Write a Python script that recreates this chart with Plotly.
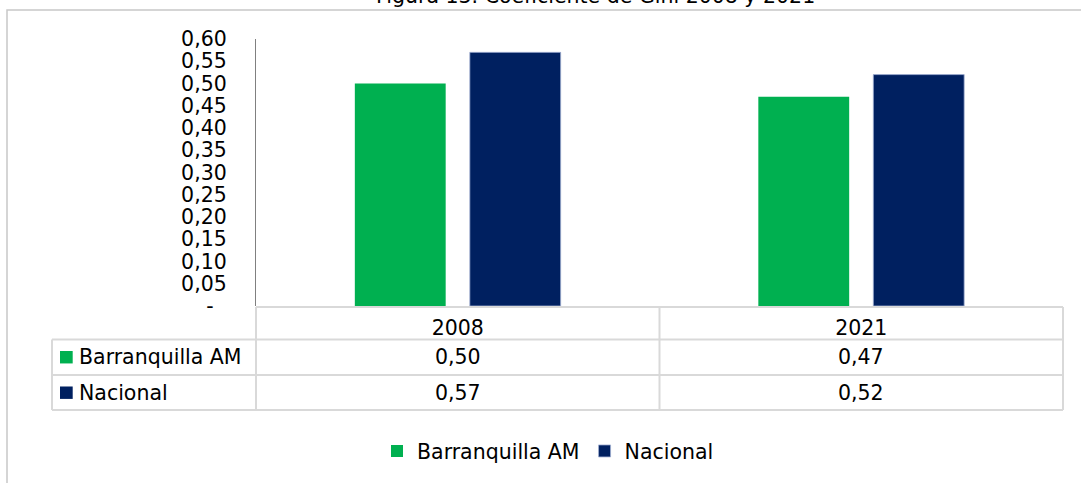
import plotly.graph_objects as go

# ---- data ----
years = ["2008", "2021"]
barranquilla = [0.50, 0.47]
nacional = [0.57, 0.52]
series_names = ["Barranquilla AM", "Nacional"]
ytick_vals = [0.00, 0.05, 0.10, 0.15, 0.20, 0.25, 0.30, 0.35, 0.40, 0.45, 0.50, 0.55, 0.60]
ytick_text = ["-\u00a0\u00a0", "0,05", "0,10", "0,15", "0,20", "0,25", "0,30",
              "0,35", "0,40", "0,45", "0,50", "0,55", "0,60"]
title_text = "Figura 13. Coeficiente de Gini 2008 y 2021"

GREEN = "#00B050"
NAVY = "#002060"
GRID = "#D9D9D9"
FONT = "DejaVu Sans"
FS = 20.5

W, H = 1081, 483
L, R, T, B = 256, 18, 39, 173
PW, PH = W - L - R, H - T - B


def px(xp):
    return (xp - L) / PW


def py(yp):
    return (H - B - yp) / PH


def fmt(v):
    return f"{v:.2f}".replace(".", ",")


fig = go.Figure()
fig.add_trace(go.Bar(x=years, y=barranquilla, name=series_names[0],
                     marker=dict(color=GREEN, line=dict(width=0))))
fig.add_trace(go.Bar(x=years, y=nacional, name=series_names[1],
                     marker=dict(color=NAVY, line=dict(width=1, color="rgba(160,175,210,0.8)"))))

shapes = []
annotations = []

# outer frame (partially visible)
shapes.append(dict(type="rect", xref="paper", yref="paper",
                   x0=px(7), x1=px(1100), y0=py(500), y1=py(9.5),
                   line=dict(color="#C8C8C8", width=1.5), layer="below"))

# data table lines
tbl_top, r1, r2, tbl_bot = 311, 344, 380, 415.5
for yy, xl in [(tbl_top, L), (r1, 52), (r2, 52), (tbl_bot, 52)]:
    shapes.append(dict(type="line", xref="paper", yref="paper",
                       x0=px(xl), x1=px(1063), y0=py(yy), y1=py(yy),
                       line=dict(color=GRID, width=2)))
for xx, yt in [(52, r1), (L, tbl_top), (659.5, tbl_top), (1063, tbl_top)]:
    shapes.append(dict(type="line", xref="paper", yref="paper",
                       x0=px(xx), x1=px(xx), y0=py(yt), y1=py(tbl_bot),
                       line=dict(color=GRID, width=2)))

# row headers
for name, col, yc in [(series_names[0], GREEN, 362), (series_names[1], NAVY, 398)]:
    shapes.append(dict(type="rect", xref="paper", yref="paper",
                       x0=px(60), x1=px(72.7), y0=py(yc + 6.3), y1=py(yc - 6.3),
                       fillcolor=col, line=dict(width=0)))
    annotations.append(dict(text=name, xref="paper", yref="paper",
                            x=px(77), y=py(yc), xanchor="left", yanchor="middle",
                            showarrow=False, font=dict(family=FONT, size=FS, color="black")))

# row values (category index on the x axis)
for vals, yc in [(barranquilla, 362), (nacional, 398)]:
    for i, v in enumerate(vals):
        annotations.append(dict(text=fmt(v), xref="x", yref="paper",
                                x=i, y=py(yc), xanchor="center", yanchor="middle",
                                showarrow=False, font=dict(family=FONT, size=FS, color="black")))

# title (clipped at top)
annotations.append(dict(text=title_text, xref="paper", yref="paper",
                        x=px(595), y=py(-5), xanchor="center", yanchor="middle",
                        showarrow=False, font=dict(family=FONT, size=FS, color="black")))

fig.update_layout(
    width=W, height=H,
    margin=dict(l=L, r=R, t=T, b=B),
    paper_bgcolor="white", plot_bgcolor="white",
    font=dict(family=FONT, size=FS, color="black"),
    barmode="group", bargap=0.43, bargroupgap=0.21,
    showlegend=True,
    legend=dict(orientation="h", x=px(377), xanchor="left", y=py(437), yanchor="top",
                font=dict(family=FONT, size=FS, color="black"),
                bgcolor="rgba(0,0,0,0)", borderwidth=0),
    shapes=shapes, annotations=annotations,
)
fig.update_xaxes(type="category", range=[-0.5, 1.5], autorange=False,
                 showgrid=False, zeroline=False, showline=False,
                 ticks="outside", ticklen=3, tickcolor="rgba(0,0,0,0)",
                 tickfont=dict(family=FONT, size=FS, color="black"))
fig.update_yaxes(range=[0, 0.6], autorange=False, tickmode="array",
                 tickvals=ytick_vals, ticktext=ytick_text,
                 showgrid=False, zeroline=False, showline=True, linecolor="#808080", linewidth=1.3,
                 ticks="outside", ticklen=24, tickcolor="rgba(0,0,0,0)",
                 tickfont=dict(family=FONT, size=FS, color="black"))

fig.write_html("out.html", config={"displayModeBar": False},
               post_script="document.body.style.margin='0';")
